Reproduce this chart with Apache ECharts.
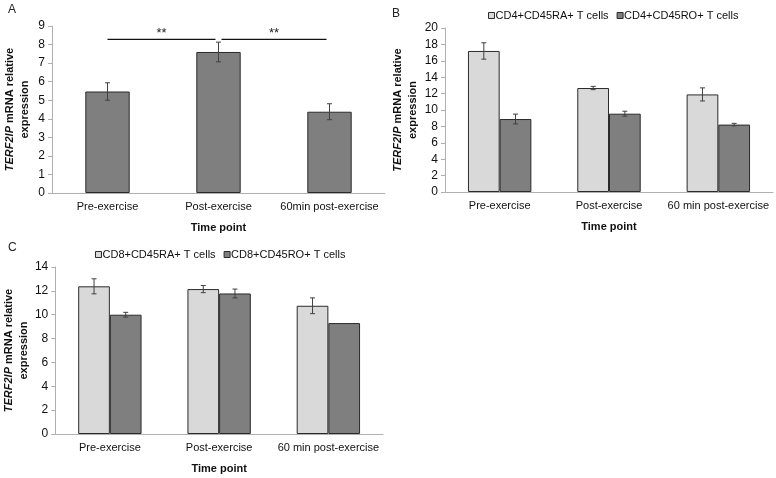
<!DOCTYPE html>
<html>
<head>
<meta charset="utf-8">
<script src="https://cdn.jsdelivr.net/npm/echarts@6/dist/echarts.min.js"></script>
<style>html,body{margin:0;padding:0;background:#fff}#c{width:776px;height:478px}</style>
</head>
<body>
<div id="c"></div>
<script>
// ---- data ----
const categoriesA = ['Pre-exercise', 'Post-exercise', '60min post-exercise'];
const categoriesBC = ['Pre-exercise', 'Post-exercise', '60 min post-exercise'];
const valuesA = [5.47, 7.6, 4.38];
const errorsA = [0.47, 0.53, 0.43];
const sigLevelA = 8.28;
const sigPairsA = [[0, 1], [1, 2]];
const sigLabelsA = ['**', '**'];
const seriesNamesB = ['CD4+CD45RA+ T cells', 'CD4+CD45RO+ T cells'];
const valuesB_RA = [17.2, 12.68, 11.9];
const errorsB_RA = [1.0, 0.2, 0.8];
const valuesB_RO = [8.9, 9.55, 8.22];
const errorsB_RO = [0.6, 0.3, 0.15];
const seriesNamesC = ['CD8+CD45RA+ T cells', 'CD8+CD45RO+ T cells'];
const valuesC_RA = [12.38, 12.15, 10.75];
const errorsC_RA = [0.63, 0.3, 0.66];
const valuesC_RO = [10.0, 11.78, 9.3];
const errorsC_RO = [0.2, 0.37, 0];
const ticksA = {min: 0, max: 9, interval: 1};
const ticksB = {min: 0, max: 20, interval: 2};
const ticksC = {min: 0, max: 14, interval: 2};

// ---- styles ----
const FONT = 'Liberation Sans, Arial, sans-serif';
const LIGHT = '#d9d9d9', DARK = '#7f7f7f', BORDER = '#2b2b2b', AXIS = '#b0b0b0';
const gapA = 0.60, gapBC = 0.42;

function xAxis(grid, cats) {
  return {
    type: 'category', gridIndex: grid, data: cats,
    axisLine: {lineStyle: {color: AXIS}},
    axisTick: {length: 4, lineStyle: {color: AXIS}},
    axisLabel: {color: '#111', fontSize: 11, fontFamily: FONT, margin: 8, interval: 0},
    name: 'Time point', nameLocation: 'middle', nameGap: 29,
    nameTextStyle: {fontWeight: 'bold', fontSize: 11, color: '#111', fontFamily: FONT}
  };
}
function yAxis(grid, t) {
  return {
    type: 'value', gridIndex: grid, min: t.min, max: t.max, interval: t.interval,
    axisLine: {show: true, lineStyle: {color: AXIS}},
    axisTick: {show: true, length: 4, lineStyle: {color: AXIS}},
    splitLine: {show: false},
    axisLabel: {color: '#111', fontSize: 12, fontFamily: FONT, margin: 7},
    name: '{i|TERF2IP} mRNA relative\nexpression', nameLocation: 'middle', nameGap: 20, nameRotate: 90,
    nameTextStyle: {fontWeight: 'bold', fontSize: 11, color: '#111', fontFamily: FONT, lineHeight: 15,
      rich: {i: {fontStyle: 'italic', fontWeight: 'bold', fontSize: 11, color: '#111', fontFamily: FONT}}}
  };
}
function barSeries(name, grid, values, color, gap) {
  return {
    type: 'bar', name: name, xAxisIndex: grid, yAxisIndex: grid, data: values,
    barGap: 0, barCategoryGap: (gap * 100) + '%',
    itemStyle: {color: color, borderColor: BORDER, borderWidth: 1},
    emphasis: {disabled: true}, animation: false
  };
}
function errorSeries(grid, values, errors, sign, groupFrac, nBars) {
  return {
    type: 'custom', xAxisIndex: grid, yAxisIndex: grid, z: 5, animation: false, silent: true,
    data: values.map((v, i) => [i, v, errors[i]]),
    renderItem: function (params, api) {
      const err = api.value(2);
      if (!err) return null;
      const band = api.size([1, 0])[0];
      const barW = band * groupFrac / nBars;
      const dx = sign * barW / 2;
      const top = api.coord([api.value(0), api.value(1) + err]);
      const bot = api.coord([api.value(0), api.value(1) - err]);
      const x = top[0] + dx, hw = 2.5;
      const st = {stroke: '#404040', lineWidth: 1};
      return {type: 'group', children: [
        {type: 'line', shape: {x1: x, y1: top[1], x2: x, y2: bot[1]}, style: st},
        {type: 'line', shape: {x1: x - hw, y1: top[1], x2: x + hw, y2: top[1]}, style: st},
        {type: 'line', shape: {x1: x - hw, y1: bot[1], x2: x + hw, y2: bot[1]}, style: st}
      ]};
    }
  };
}
const sigSeries = {
  type: 'custom', xAxisIndex: 0, yAxisIndex: 0, z: 6, animation: false, silent: true,
  data: sigPairsA.map((p, i) => [p[0], p[1], sigLevelA, i]),
  renderItem: function (params, api) {
    const idx = api.value(3);
    const p1 = api.coord([api.value(0), api.value(2)]);
    const p2 = api.coord([api.value(1), api.value(2)]);
    const x1 = p1[0] + (idx > 0 ? 3 : 0), x2 = p2[0] - 3;
    return {type: 'group', children: [
      {type: 'line', shape: {x1: x1, y1: p1[1], x2: x2, y2: p1[1]}, style: {stroke: '#111', lineWidth: 1.3}},
      {type: 'text', style: {text: sigLabelsA[idx], x: (x1 + x2) / 2, y: p1[1] + 1, align: 'center',
        verticalAlign: 'bottom', fontSize: 13, fontFamily: FONT, fill: '#222'}}
    ]};
  }
};

const legendCommon = {
  orient: 'horizontal', icon: 'rect', itemWidth: 6, itemHeight: 6, itemGap: 8, padding: 0,
  textStyle: {fontSize: 11, fontFamily: FONT, color: '#111', padding: [0, 0, 0, -4]},
  itemStyle: {borderColor: BORDER, borderWidth: 1}
};

const option = {
  backgroundColor: '#fff',
  animation: false,
  grid: [
    {left: 52, right: 391, top: 26, bottom: 285},
    {left: 445, right: 3, top: 28, bottom: 286},
    {left: 53, right: 393, top: 267, bottom: 44}
  ],
  legend: [
    Object.assign({}, legendCommon, {data: seriesNamesB, left: 488, top: 10}),
    Object.assign({}, legendCommon, {data: seriesNamesC, left: 95, top: 249})
  ],
  xAxis: [xAxis(0, categoriesA), xAxis(1, categoriesBC), xAxis(2, categoriesBC)],
  yAxis: [yAxis(0, ticksA), yAxis(1, ticksB), yAxis(2, ticksC)],
  graphic: [
    {type: 'text', left: 8, top: 4, style: {text: 'A', fontSize: 12, fontFamily: FONT, fill: '#222'}},
    {type: 'text', left: 392, top: 8, style: {text: 'B', fontSize: 12, fontFamily: FONT, fill: '#222'}},
    {type: 'text', left: 8, top: 242, style: {text: 'C', fontSize: 12, fontFamily: FONT, fill: '#222'}}
  ],
  series: [
    barSeries('A', 0, valuesA, DARK, gapA),
    errorSeries(0, valuesA, errorsA, 0, 1 - gapA, 1),
    sigSeries,
    barSeries(seriesNamesB[0], 1, valuesB_RA, LIGHT, gapBC),
    barSeries(seriesNamesB[1], 1, valuesB_RO, DARK, gapBC),
    errorSeries(1, valuesB_RA, errorsB_RA, -1, 1 - gapBC, 2),
    errorSeries(1, valuesB_RO, errorsB_RO, 1, 1 - gapBC, 2),
    barSeries(seriesNamesC[0], 2, valuesC_RA, LIGHT, gapBC),
    barSeries(seriesNamesC[1], 2, valuesC_RO, DARK, gapBC),
    errorSeries(2, valuesC_RA, errorsC_RA, -1, 1 - gapBC, 2),
    errorSeries(2, valuesC_RO, errorsC_RO, 1, 1 - gapBC, 2)
  ]
};
const chart = echarts.init(document.getElementById('c'), null, {renderer: 'canvas'});
chart.setOption(option);
</script>
</body>
</html>
